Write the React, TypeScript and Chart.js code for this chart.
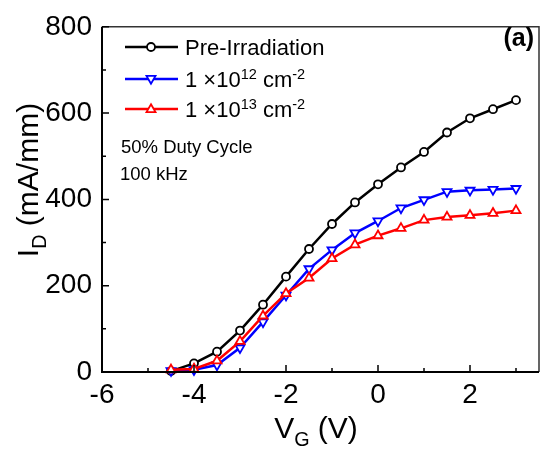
import React, { useEffect, useRef } from "react";
import { Chart, registerables } from "chart.js";
Chart.register(...registerables);

// ---- data ----
const vg = [-4.5, -4, -3.5, -3, -2.5, -2, -1.5, -1, -0.5, 0, 0.5, 1, 1.5, 2, 2.5, 3];
const preIrradiation = [2, 20, 47, 96, 156, 221, 285, 343, 393, 435, 474, 510, 555, 588, 609, 630];
const fluence1e12 = [3, 5, 16, 56, 116, 178, 239, 283, 322, 350, 380, 399, 418, 421, 423, 425];
const fluence1e13 = [5, 7, 26, 71, 130, 182, 218, 263, 295, 316, 333, 352, 359, 363, 368, 374];
const xTicks = [-6, -4, -2, 0, 2];
const xMinorTicks = [-5, -3, -1, 1, 3];
const yTicks = [0, 200, 400, 600, 800];
const yMinorTicks = [100, 300, 500, 700];
const seriesNames = ["Pre-Irradiation", "1 ×10^12 cm^-2", "1 ×10^13 cm^-2"];
const annotations = ["50% Duty Cycle", "100 kHz"];
const panelLabel = "(a)";

const FONT = '"Liberation Sans", Arial, Helvetica, sans-serif';

type Seg = { t: string; sup?: boolean; sub?: boolean };

function parseRich(s: string): Seg[] {
  const out: Seg[] = [];
  const re = /\^(\S+)/g;
  let last = 0;
  let m: RegExpExecArray | null;
  while ((m = re.exec(s))) {
    if (m.index > last) out.push({ t: s.slice(last, m.index) });
    out.push({ t: m[1], sup: true });
    last = m.index + m[0].length;
  }
  if (last < s.length) out.push({ t: s.slice(last) });
  return out;
}

function richWidth(ctx: CanvasRenderingContext2D, segs: Seg[], size: number, weight = "normal") {
  let w = 0;
  for (const s of segs) {
    const fs = s.sup || s.sub ? size * 0.66 : size;
    ctx.font = `${weight} ${fs}px ${FONT}`;
    w += ctx.measureText(s.t).width;
  }
  return w;
}

function drawRich(ctx: CanvasRenderingContext2D, segs: Seg[], x: number, y: number, size: number, weight = "normal") {
  let cx = x;
  ctx.textBaseline = "alphabetic";
  ctx.textAlign = "left";
  for (const s of segs) {
    const fs = s.sup || s.sub ? size * 0.66 : size;
    ctx.font = `${weight} ${fs}px ${FONT}`;
    const dy = s.sup ? -size * 0.38 : s.sub ? size * 0.25 : 0;
    ctx.fillText(s.t, cx, y + dy);
    cx += ctx.measureText(s.t).width;
  }
}

function drawMarker(ctx: CanvasRenderingContext2D, style: string, x: number, y: number, r: number, color: string) {
  ctx.save();
  ctx.beginPath();
  if (style === "circle") {
    ctx.arc(x, y, r, 0, Math.PI * 2);
  } else {
    const dir = style === "down" ? -1 : 1;
    for (let i = 0; i < 3; i++) {
      const a = (i * 2 * Math.PI) / 3;
      const px = x + Math.sin(a) * r * dir;
      const py = y - Math.cos(a) * r * dir;
      if (i === 0) ctx.moveTo(px, py);
      else ctx.lineTo(px, py);
    }
    ctx.closePath();
  }
  ctx.fillStyle = "#fff";
  ctx.fill();
  ctx.strokeStyle = color;
  ctx.lineWidth = 1.8;
  ctx.stroke();
  ctx.restore();
}

const colors = ["#000000", "#0000ff", "#ff0000"];
const markerStyles = ["circle", "down", "up"];

const overlayPlugin = {
  id: "overlay",
  afterDraw(chart: any) {
    const ctx: CanvasRenderingContext2D = chart.ctx;
    const { left, right, top, bottom } = chart.chartArea;
    const xs = chart.scales.x;
    const ys = chart.scales.y;
    ctx.save();
    // frame
    ctx.strokeStyle = "#333";
    ctx.lineWidth = 1.5;
    ctx.beginPath();
    ctx.moveTo(left, top);
    ctx.lineTo(right, top);
    ctx.lineTo(right, bottom);
    ctx.stroke();
    ctx.strokeStyle = "#000";
    ctx.lineWidth = 2;
    ctx.beginPath();
    ctx.moveTo(left, top);
    ctx.lineTo(left, bottom);
    ctx.lineTo(right, bottom);
    ctx.stroke();
    // inward ticks
    ctx.lineWidth = 1.5;
    ctx.beginPath();
    for (const v of xTicks) {
      const px = xs.getPixelForValue(v);
      ctx.moveTo(px, bottom);
      ctx.lineTo(px, bottom - 7);
    }
    for (const v of xMinorTicks) {
      const px = xs.getPixelForValue(v);
      ctx.moveTo(px, bottom);
      ctx.lineTo(px, bottom - 4);
    }
    for (const v of yTicks) {
      const py = ys.getPixelForValue(v);
      ctx.moveTo(left, py);
      ctx.lineTo(left + 7, py);
    }
    for (const v of yMinorTicks) {
      const py = ys.getPixelForValue(v);
      ctx.moveTo(left, py);
      ctx.lineTo(left + 4, py);
    }
    ctx.stroke();

    ctx.fillStyle = "#000";
    // x title
    const xt: Seg[] = [{ t: "V" }, { t: "G", sub: true }, { t: " (V)" }];
    const xw = richWidth(ctx, xt, 30);
    drawRich(ctx, xt, 316 - xw / 2, 438, 30);
    // y title
    const yt: Seg[] = [{ t: "I" }, { t: "D", sub: true }, { t: " (mA/mm)" }];
    const yw = richWidth(ctx, yt, 30);
    ctx.save();
    ctx.translate(38, 180);
    ctx.rotate(-Math.PI / 2);
    drawRich(ctx, yt, -yw / 2, 0, 30);
    ctx.restore();

    // legend
    const legY = [47, 79, 109];
    seriesNames.forEach((name, i) => {
      const y = legY[i];
      ctx.strokeStyle = colors[i];
      ctx.lineWidth = 2.5;
      ctx.beginPath();
      ctx.moveTo(125, y);
      ctx.lineTo(178, y);
      ctx.stroke();
      drawMarker(ctx, markerStyles[i], 151, y + (i === 1 ? -0.5 : i === 2 ? 0.5 : 0), i === 0 ? 4 : 5.2, colors[i]);
      ctx.fillStyle = "#000";
      drawRich(ctx, parseRich(name), 185, y + 8, 22);
    });
    // annotations
    ctx.font = `18.5px ${FONT}`;
    ctx.textAlign = "left";
    ctx.textBaseline = "alphabetic";
    ctx.fillText(annotations[0], 121, 153);
    ctx.fillText(annotations[1], 120, 180);
    // panel label
    ctx.font = `bold 25px ${FONT}`;
    ctx.textAlign = "right";
    ctx.fillText(panelLabel, 534, 46);
    ctx.restore();
  },
};

export default function App() {
  const ref = useRef<HTMLCanvasElement | null>(null);
  useEffect(() => {
    if (!ref.current) return;
    const seriesData = [preIrradiation, fluence1e12, fluence1e13];
    const chart = new Chart(ref.current, {
      type: "line",
      data: {
        datasets: seriesData.map((arr, i) => ({
          label: seriesNames[i],
          data: vg.map((x, k) => ({ x, y: arr[k] })),
          borderColor: colors[i],
          borderWidth: 2.5,
          pointStyle: i === 0 ? "circle" : "triangle",
          rotation: i === 1 ? 180 : 0,
          pointRadius: i === 0 ? 4 : 5.2,
          pointBorderWidth: 1.8,
          pointBackgroundColor: "#fff",
          pointBorderColor: colors[i],
          tension: 0,
          clip: false,
          order: 2 - i,
        })),
      },
      options: {
        responsive: false,
        animation: false,
        events: [],
        layout: { padding: { top: 18, right: 6, left: 0, bottom: 0 } },
        plugins: { legend: { display: false }, tooltip: { enabled: false } },
        scales: {
          x: {
            type: "linear",
            min: -6,
            max: 3.5,
            grid: { display: false, drawTicks: false },
            border: { display: false },
            ticks: { color: "#000", font: { family: FONT, size: 28 }, padding: 6 },
            afterBuildTicks: (s: any) => {
              s.ticks = xTicks.map((v) => ({ value: v }));
            },
            afterFit: (s: any) => {
              s.height = 78;
            },
          },
          y: {
            type: "linear",
            min: 0,
            max: 800,
            grid: { display: false, drawTicks: false },
            border: { display: false },
            ticks: { color: "#000", font: { family: FONT, size: 28 }, padding: 10 },
            afterBuildTicks: (s: any) => {
              s.ticks = yTicks.map((v) => ({ value: v }));
            },
            afterFit: (s: any) => {
              s.width = 102;
            },
          },
        },
      },
      plugins: [overlayPlugin],
    });
    return () => chart.destroy();
  }, []);
  return (
    <div style={{ position: "fixed", left: 0, top: 0, width: 546, height: 450, background: "#fff" }}>
      <canvas ref={ref} width={546} height={450} style={{ display: "block" }} />
    </div>
  );
}
